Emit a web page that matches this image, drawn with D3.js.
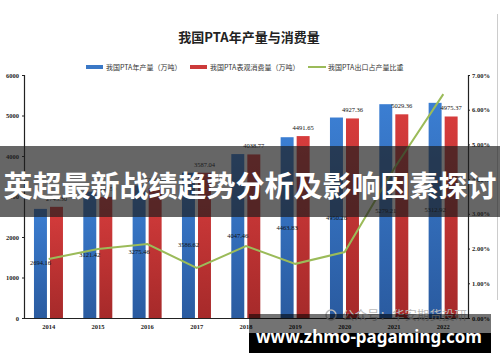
<!DOCTYPE html>
<html>
<head>
<meta charset="utf-8">
<script src="https://cdn.jsdelivr.net/npm/d3@7"></script>
<style>
  body { margin: 0; background: #fff; }
  svg { display: block; }
</style>
</head>
<body>
<div id="chart"></div>
<script>
const years = ["2014", "2015", "2016", "2017", "2018", "2019", "2020", "2021", "2022"];
const production = [2694.16, 3121.42, 3275.46, 3586.62, 4047.46, 4463.83, 4950.26, 5279.21, 5312.92];
const consumption = [2745.3, 2990.5, 3210.8, 3587.04, 4038.77, 4491.65, 4927.36, 5029.36, 4975.37];
const exportShare = [0.0170, 0.0199, 0.0213, 0.0144, 0.0207, 0.0156, 0.0190, 0.0430, 0.0645];
const leftTicks = [0, 1000, 2000, 3000, 4000, 5000, 6000];
const rightTicks = [0, 0.01, 0.02, 0.03, 0.04, 0.05, 0.06, 0.07];

const W = 500, H = 362;
const margin = {top: 75, right: 32, bottom: 44, left: 24};
const width = W - margin.left - margin.right,
    height = H - margin.top - margin.bottom;

const svg = d3.select("#chart")
    .append("svg")
    .attr("width", W)
    .attr("height", H);

const defs = svg.append("defs");
const gradBlue = defs.append("linearGradient").attr("id", "gBlue").attr("x1", 0).attr("y1", 0).attr("x2", 0).attr("y2", 1);
gradBlue.append("stop").attr("offset", "0%").attr("stop-color", "#3b7ed2");
gradBlue.append("stop").attr("offset", "100%").attr("stop-color", "#2a5ba0");
const gradRed = defs.append("linearGradient").attr("id", "gRed").attr("x1", 0).attr("y1", 0).attr("x2", 0).attr("y2", 1);
gradRed.append("stop").attr("offset", "0%").attr("stop-color", "#d63c3c");
gradRed.append("stop").attr("offset", "100%").attr("stop-color", "#a62a2a");

const g = svg.append("g")
    .attr("transform", `translate(${margin.left},${margin.top})`);

const x0 = d3.scaleBand().domain(years).range([0, width]).padding(0);
const x1 = d3.scaleBand().domain(["prod", "cons"])
    .range([x0.bandwidth() / 2 - 14.7, x0.bandwidth() / 2 + 14.3])
    .paddingInner(0.19);
const yL = d3.scaleLinear().domain([0, 6000]).range([height, 0]);
const yR = d3.scaleLinear().domain([0, 0.07]).range([height, 0]);

const serif = "'Liberation Serif', 'DejaVu Serif', serif";
const cjk = "'Noto Sans CJK SC', sans-serif";

// title + legend
svg.append("text")
    .attr("x", 249).attr("y", 42)
    .attr("text-anchor", "middle")
    .style("font-family", cjk)
    .style("font-weight", "700")
    .style("font-size", "13px")
    .style("fill", "#222")
    .text("我国PTA年产量与消费量");

const legendItems = [
    {label: "我国PTA年产量（万吨）", type: "rect", fill: "#3a78c6", x: 86},
    {label: "我国PTA表观消费量（万吨）", type: "rect", fill: "#cc3a3a", x: 190},
    {label: "我国PTA出口占产量比重", type: "line", fill: "#9bbb59", x: 308}
];
legendItems.forEach(d => {
    if (d.type === "rect") {
        svg.append("rect").attr("x", d.x).attr("y", 65).attr("width", 17).attr("height", 4).attr("fill", d.fill);
    } else {
        svg.append("line").attr("x1", d.x).attr("x2", d.x + 18).attr("y1", 67).attr("y2", 67)
            .attr("stroke", d.fill).attr("stroke-width", 2);
    }
    svg.append("text")
        .attr("x", d.x + 20).attr("y", 69.5)
        .style("font-family", cjk)
        .style("font-size", "7px")
        .style("fill", "#333")
        .text(d.label);
});

// axes
const axL = g.append("g")
    .call(d3.axisLeft(yL).tickValues(leftTicks).tickSize(2).tickPadding(3).tickFormat(d3.format("d")));
const axR = g.append("g")
    .attr("transform", `translate(${width},0)`)
    .call(d3.axisRight(yR).tickValues(rightTicks).tickSize(2).tickPadding(2).tickFormat(d3.format(".2%")));
const axB = g.append("g")
    .attr("transform", `translate(0,${height})`)
    .call(d3.axisBottom(x0).tickSize(0).tickPadding(6));

[axL, axR, axB].forEach(a => {
    a.select(".domain").attr("stroke", "#222").attr("stroke-width", 1.2);
    a.selectAll(".tick line").attr("stroke", "#222");
    a.selectAll("text")
        .style("font-family", serif)
        .style("font-size", "6.5px")
        .style("font-weight", "700")
        .style("fill", "#222");
});

// bars
const groups = g.selectAll(".yr")
    .data(years.map((y, i) => ({year: y, prod: production[i], cons: consumption[i]})))
    .enter().append("g")
    .attr("transform", d => `translate(${x0(d.year)},0)`);

groups.append("rect")
    .attr("x", x1("prod"))
    .attr("width", x1.bandwidth())
    .attr("y", d => yL(d.prod))
    .attr("height", d => height - yL(d.prod))
    .attr("fill", "url(#gBlue)");

groups.append("rect")
    .attr("x", x1("cons"))
    .attr("width", x1.bandwidth())
    .attr("y", d => yL(d.cons))
    .attr("height", d => height - yL(d.cons))
    .attr("fill", "url(#gRed)");

// line
const line = d3.line()
    .x((d, i) => x0(years[i]) + x0.bandwidth() / 2)
    .y(d => yR(d));

g.append("path")
    .datum(exportShare)
    .attr("d", line)
    .attr("fill", "none")
    .attr("stroke", "#9bbb59")
    .attr("stroke-width", 2);

// labels
groups.append("text")
    .attr("x", x1("prod") + x1.bandwidth() / 2)
    .attr("y", d => (yL(d.prod) + height) / 2 + 2)
    .attr("text-anchor", "middle")
    .style("font-family", serif)
    .style("font-size", "6.5px")
    .style("fill", "#111")
    .text(d => d.prod.toFixed(2));

groups.append("text")
    .attr("x", x1("cons") + x1.bandwidth() / 2)
    .attr("y", d => yL(d.cons) - 6)
    .attr("text-anchor", "middle")
    .style("font-family", serif)
    .style("font-size", "6.5px")
    .style("fill", "#111")
    .text(d => d.cons.toFixed(2));

// watermark
svg.append("circle").attr("cx", 331).attr("cy", 315).attr("r", 5)
    .attr("fill", "none").attr("stroke", "#bbb").attr("stroke-width", 1.5);
svg.append("text")
    .attr("x", 342).attr("y", 320)
    .style("font-family", cjk)
    .style("font-size", "12.5px")
    .style("fill", "#bbb")
    .text("公众号：华安期货投研");

svg.append("line").attr("x1", 497.5).attr("x2", 497.5).attr("y1", 14).attr("y2", 300)
    .attr("stroke", "#ccc").attr("stroke-width", 1);

// overlay banner
svg.append("rect").attr("x", 0).attr("y", 146).attr("width", W).attr("height", 71)
    .attr("fill", "rgba(30,30,30,0.68)");
svg.append("text")
    .attr("x", 250).attr("y", 197)
    .attr("text-anchor", "middle")
    .style("font-family", cjk)
    .style("font-weight", "700")
    .style("font-size", "29px")
    .style("fill", "#fff")
    .text("英超最新战绩趋势分析及影响因素探讨");

// bottom-right url box
svg.append("rect").attr("x", 249).attr("y", 314).attr("width", 242).attr("height", 19)
    .attr("fill", "rgba(0,0,0,0.55)");
svg.append("rect").attr("x", 249).attr("y", 333).attr("width", 242).attr("height", 20)
    .attr("fill", "#000");
svg.append("text")
    .attr("x", 369).attr("y", 343)
    .attr("text-anchor", "middle")
    .style("font-family", "'Noto Sans', 'DejaVu Sans', sans-serif")
    .style("font-weight", "700")
    .style("font-size", "17px")
    .style("fill", "#fff")
    .text("www.zhmo-pagaming.com");
</script>
</body>
</html>
